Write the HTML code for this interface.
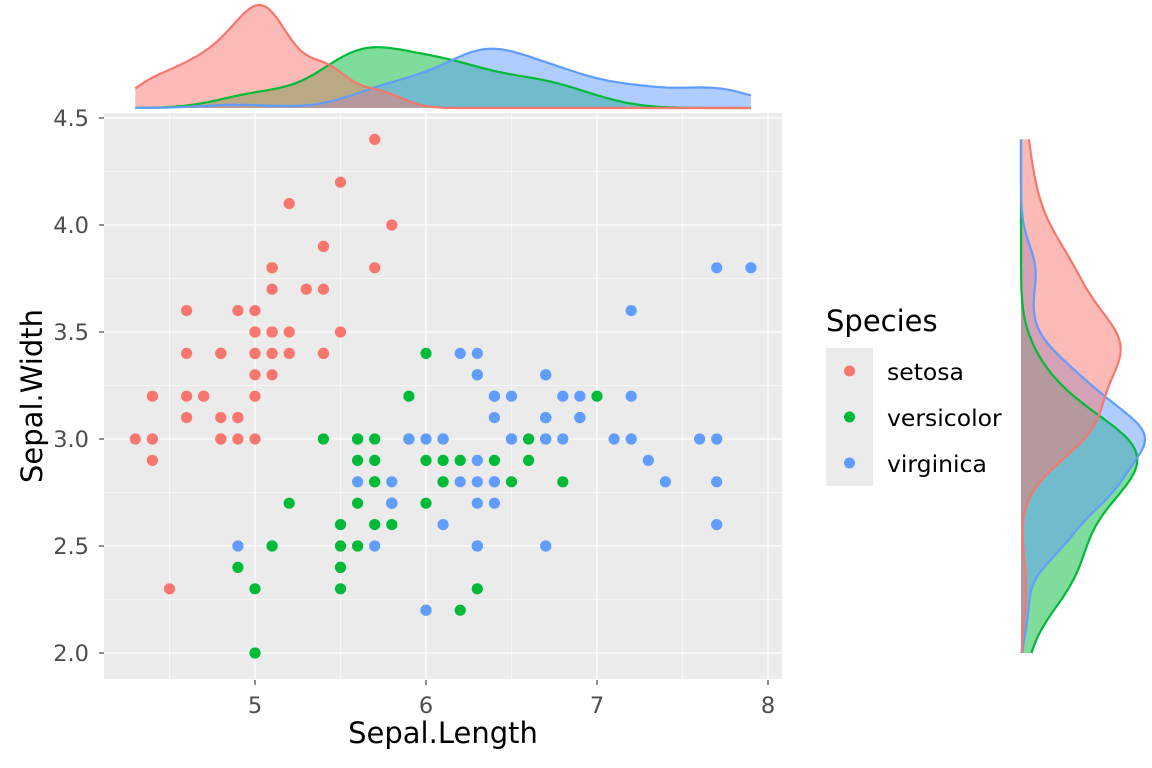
<!DOCTYPE html>
<html><head><meta charset="utf-8"><style>
html,body{margin:0;padding:0;background:#fff;}
svg{display:block;font-family:"DejaVu Sans","Liberation Sans",sans-serif;}
</style></head><body>
<svg id="s" width="1152" height="768" xmlns="http://www.w3.org/2000/svg">
<rect x="104" y="113" width="678" height="566" fill="#EBEBEB"/>
<g id="grid"></g>
<g id="pts"></g>
<g id="dens"></g>
<g id="lines"></g>
<g fill="#4D4D4D" font-size="22.5">
<text x="255" y="713" text-anchor="middle">5</text>
<text x="426" y="713" text-anchor="middle">6</text>
<text x="597" y="713" text-anchor="middle">7</text>
<text x="768" y="713" text-anchor="middle">8</text>
<text x="89" y="126" text-anchor="end">4.5</text>
<text x="89" y="233" text-anchor="end">4.0</text>
<text x="89" y="340" text-anchor="end">3.5</text>
<text x="89" y="447" text-anchor="end">3.0</text>
<text x="89" y="554" text-anchor="end">2.5</text>
<text x="89" y="661" text-anchor="end">2.0</text>
</g>
<g stroke="#333" stroke-width="1.1">
<line x1="255" y1="680" x2="255" y2="685"/><line x1="426" y1="680" x2="426" y2="685"/><line x1="597" y1="680" x2="597" y2="685"/><line x1="768" y1="680" x2="768" y2="685"/>
<line x1="99" y1="118" x2="104" y2="118"/><line x1="99" y1="225" x2="104" y2="225"/><line x1="99" y1="332" x2="104" y2="332"/><line x1="99" y1="439" x2="104" y2="439"/><line x1="99" y1="546" x2="104" y2="546"/><line x1="99" y1="653" x2="104" y2="653"/>
</g>
<text x="443" y="743" text-anchor="middle" font-size="29">Sepal.Length</text>
<text transform="translate(42,396) rotate(-90)" text-anchor="middle" font-size="29">Sepal.Width</text>
<text x="826" y="331" font-size="29">Species</text>
<rect x="826" y="348" width="47" height="138" fill="#EBEBEB"/>
<circle cx="849.5" cy="371" r="5.5" fill="#F8766D"/>
<circle cx="849.5" cy="417" r="5.5" fill="#00BA38"/>
<circle cx="849.5" cy="463" r="5.5" fill="#619CFF"/>
<g font-size="23.5"><text x="887" y="380">setosa</text><text x="887" y="426">versicolor</text><text x="887" y="472">virginica</text></g>
</svg>
<script>
var D=[[5.1,3.5,4.9,3.0,4.7,3.2,4.6,3.1,5.0,3.6,5.4,3.9,4.6,3.4,5.0,3.4,4.4,2.9,4.9,3.1,5.4,3.7,4.8,3.4,4.8,3.0,4.3,3.0,5.8,4.0,5.7,4.4,5.4,3.9,5.1,3.5,5.7,3.8,5.1,3.8,5.4,3.4,5.1,3.7,4.6,3.6,5.1,3.3,4.8,3.4,5.0,3.0,5.0,3.4,5.2,3.5,5.2,3.4,4.7,3.2,4.8,3.1,5.4,3.4,5.2,4.1,5.5,4.2,4.9,3.1,5.0,3.2,5.5,3.5,4.9,3.6,4.4,3.0,5.1,3.4,5.0,3.5,4.5,2.3,4.4,3.2,5.0,3.5,5.1,3.8,4.8,3.0,5.1,3.8,4.6,3.2,5.3,3.7,5.0,3.3],
[7.0,3.2,6.4,3.2,6.9,3.1,5.5,2.3,6.5,2.8,5.7,2.8,6.3,3.3,4.9,2.4,6.6,2.9,5.2,2.7,5.0,2.0,5.9,3.0,6.0,2.2,6.1,2.9,5.6,2.9,6.7,3.1,5.6,3.0,5.8,2.7,6.2,2.2,5.6,2.5,5.9,3.2,6.1,2.8,6.3,2.5,6.1,2.8,6.4,2.9,6.6,3.0,6.8,2.8,6.7,3.0,6.0,2.9,5.7,2.6,5.5,2.4,5.5,2.4,5.8,2.7,6.0,2.7,5.4,3.0,6.0,3.4,6.7,3.1,6.3,2.3,5.6,3.0,5.5,2.5,5.5,2.6,6.1,3.0,5.8,2.6,5.0,2.3,5.6,2.7,5.7,3.0,5.7,2.9,6.2,2.9,5.1,2.5,5.7,2.8],
[6.3,3.3,5.8,2.7,7.1,3.0,6.3,2.9,6.5,3.0,7.6,3.0,4.9,2.5,7.3,2.9,6.7,2.5,7.2,3.6,6.5,3.2,6.4,2.7,6.8,3.0,5.7,2.5,5.8,2.8,6.4,3.2,6.5,3.0,7.7,3.8,7.7,2.6,6.0,2.2,6.9,3.2,5.6,2.8,7.7,2.8,6.3,2.7,6.7,3.3,7.2,3.2,6.2,2.8,6.1,3.0,6.4,2.8,7.2,3.0,7.4,2.8,7.9,3.8,6.4,2.8,6.3,2.8,6.1,2.6,7.7,3.0,6.3,3.4,6.4,3.1,6.0,3.0,6.9,3.1,6.7,3.1,6.9,3.1,5.8,2.7,6.8,3.2,6.7,3.3,6.7,3.0,6.3,2.5,6.5,3.0,6.2,3.4,5.9,3.0]];
var C=["#F8766D","#00BA38","#619CFF"];
function X(v){return 255+(v-5)*171;}function Y(v){return 653-(v-2)*214;}
var NS="http://www.w3.org/2000/svg";
function el(p,t,a){var e=document.createElementNS(NS,t);for(var k in a)e.setAttribute(k,a[k]);p.appendChild(e);return e;}
var g=document.getElementById("grid");
[4.5,5.5,6.5,7.5].forEach(function(v){el(g,"line",{x1:X(v),x2:X(v),y1:113,y2:679,stroke:"#fff","stroke-width":0.6});});
[2.25,2.75,3.25,3.75,4.25].forEach(function(v){el(g,"line",{x1:104,x2:782,y1:Y(v),y2:Y(v),stroke:"#fff","stroke-width":0.6});});
[5,6,7,8].forEach(function(v){el(g,"line",{x1:X(v),x2:X(v),y1:113,y2:679,stroke:"#fff","stroke-width":1.3});});
[2,2.5,3,3.5,4,4.5].forEach(function(v){el(g,"line",{x1:104,x2:782,y1:Y(v),y2:Y(v),stroke:"#fff","stroke-width":1.3});});
var P=document.getElementById("pts");
D.forEach(function(a,i){for(var j=0;j<a.length;j+=2)el(P,"circle",{cx:X(a[j]),cy:Y(a[j+1]),r:5.6,fill:C[i]});});
function q(s,p){var h=(s.length-1)*p,l=Math.floor(h);return s[l]+(h-l)*((s[l+1]||s[l])-s[l]);}
function bw(v){var n=v.length,m=v.reduce((a,b)=>a+b)/n,sd=Math.sqrt(v.reduce((a,b)=>a+(b-m)*(b-m),0)/(n-1));var s=v.slice().sort((a,b)=>a-b);var iq=(q(s,.75)-q(s,.25))/1.34;return 0.9*Math.min(sd,iq)*Math.pow(n,-0.2);}
function kde(v,lo,hi){var h=bw(v),r=[];for(var k=0;k<=200;k++){var x=lo+(hi-lo)*k/200,s=0;v.forEach(function(t){var z=(x-t)/h;s+=Math.exp(-z*z/2);});r.push([x,s/(v.length*h*Math.sqrt(2*Math.PI))]);}return r;}
var G=document.getElementById("dens"),L=document.getElementById("lines");
function draw(idx,lo,hi,horiz){var ks=D.map(function(a){var v=[];for(var j=idx;j<a.length;j+=2)v.push(a[j]);return kde(v,lo,hi);});
var mx=0;ks.forEach(k=>k.forEach(p=>{if(p[1]>mx)mx=p[1];}));
[1,2,0].forEach(function(i){var k=ks[i];var pts=k.map(function(p){return horiz?[X(p[0]),108-p[1]/mx*103]:[1021+p[1]/mx*124,Y(p[0])];});
var line=pts.map(p=>p[0].toFixed(1)+","+p[1].toFixed(1)).join(" ");
var f=horiz?line+" "+X(hi)+",108 "+X(lo)+",108":line+" 1021,"+Y(hi)+" 1021,"+Y(lo);
el(G,"polygon",{points:f,fill:C[i],"fill-opacity":0.5});
el(L,"polyline",{points:line,fill:"none",stroke:C[i],"stroke-width":2.2});});}
draw(0,4.3,7.9,true);draw(1,2.0,4.4,false);
</script>
</body></html>
